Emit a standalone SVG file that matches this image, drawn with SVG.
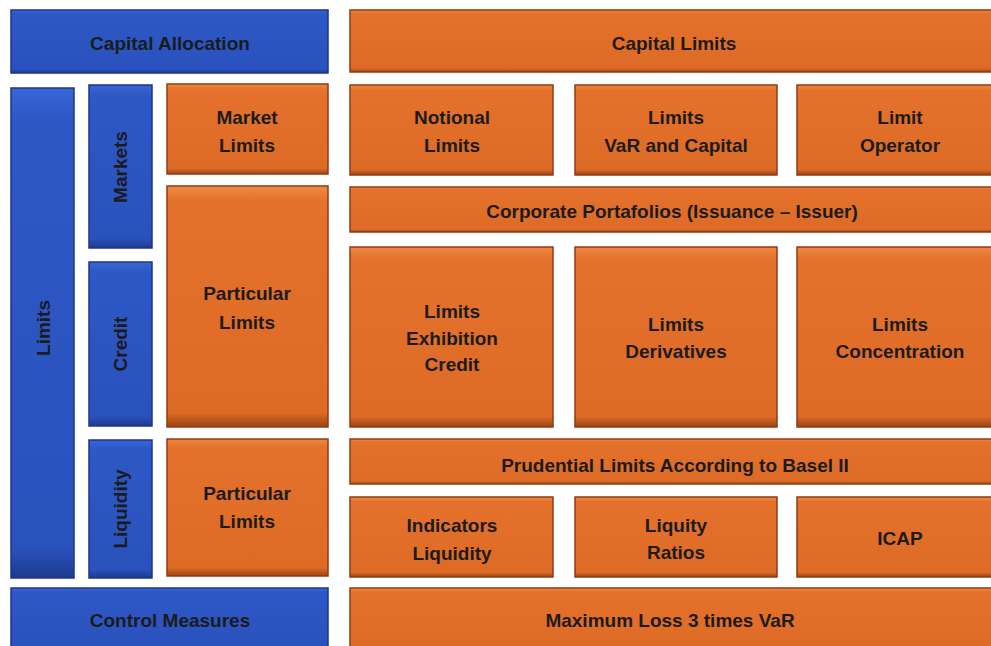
<svg xmlns="http://www.w3.org/2000/svg" width="991" height="646" viewBox="0 0 991 646">
<defs>
<linearGradient id="gb" x1="0" y1="0" x2="0" y2="1">
<stop offset="0" stop-color="#3a66d6"/>
<stop offset="0.06" stop-color="#2e58c6"/>
<stop offset="0.94" stop-color="#2a52bd"/>
<stop offset="1" stop-color="#1d3a8e"/>
</linearGradient>
<linearGradient id="go" x1="0" y1="0" x2="0" y2="1">
<stop offset="0" stop-color="#f08a45"/>
<stop offset="0.06" stop-color="#e4722c"/>
<stop offset="0.94" stop-color="#dd6b26"/>
<stop offset="1" stop-color="#9c4414"/>
</linearGradient>
<style>
.b{fill:url(#gb);stroke:#1c348a;stroke-width:1.5}
.o{fill:url(#go);stroke:#8e3d12;stroke-width:1.5}
text{font-family:"Liberation Sans",Arial,sans-serif;font-weight:bold;font-size:19px;fill:#1b1b1b;text-anchor:middle}
</style>
</defs>
<rect width="991" height="646" fill="#ffffff"/>
<g id="capital-allocation"><rect class="b" x="11" y="10" width="317" height="63"/><text x="170" y="50">Capital Allocation</text></g>
<g id="limits"><rect class="b" x="11" y="88" width="63" height="490"/><text transform="translate(50,328) rotate(-90)">Limits</text></g>
<g id="markets"><rect class="b" x="89" y="85" width="63" height="163"/><text transform="translate(127,167) rotate(-90)">Markets</text></g>
<g id="credit"><rect class="b" x="89" y="262" width="63" height="164"/><text transform="translate(127,344) rotate(-90)">Credit</text></g>
<g id="liquidity"><rect class="b" x="89" y="440" width="63" height="138"/><text transform="translate(127,509) rotate(-90)">Liquidity</text></g>
<g id="market-limits"><rect class="o" x="167" y="84" width="161" height="90"/><text x="247" y="124">Market</text><text x="247" y="152">Limits</text></g>
<g id="particular-limits-credit"><rect class="o" x="167" y="186" width="161" height="241"/><text x="247" y="300">Particular</text><text x="247" y="329">Limits</text></g>
<g id="particular-limits-liquidity"><rect class="o" x="167" y="439" width="161" height="137"/><text x="247" y="500">Particular</text><text x="247" y="528">Limits</text></g>
<g id="control-measures"><rect class="b" x="11" y="588" width="317" height="62"/><text x="170" y="627">Control  Measures</text></g>
<g id="capital-limits"><rect class="o" x="350" y="10" width="650" height="62"/><text x="674" y="50">Capital Limits</text></g>
<g id="notional-limits"><rect class="o" x="350" y="85" width="203" height="90"/><text x="452" y="124">Notional</text><text x="452" y="152">Limits</text></g>
<g id="limits-var"><rect class="o" x="575" y="85" width="202" height="90"/><text x="676" y="124">Limits</text><text x="676" y="152">VaR and Capital</text></g>
<g id="limit-operator"><rect class="o" x="797" y="85" width="210" height="90"/><text x="900" y="124">Limit</text><text x="900" y="152">Operator</text></g>
<g id="corporate-portfolios"><rect class="o" x="350" y="187" width="650" height="45"/><text x="672" y="218">Corporate Portafolios (Issuance – Issuer)</text></g>
<g id="limits-exhibition"><rect class="o" x="350" y="247" width="203" height="180"/><text x="452" y="318">Limits</text><text x="452" y="345">Exhibition</text><text x="452" y="371">Credit</text></g>
<g id="limits-derivatives"><rect class="o" x="575" y="247" width="202" height="180"/><text x="676" y="331">Limits</text><text x="676" y="358">Derivatives</text></g>
<g id="limits-concentration"><rect class="o" x="797" y="247" width="210" height="180"/><text x="900" y="331">Limits</text><text x="900" y="358">Concentration</text></g>
<g id="prudential-limits"><rect class="o" x="350" y="439" width="650" height="45"/><text x="675" y="472">Prudential Limits According to Basel II</text></g>
<g id="indicators-liquidity"><rect class="o" x="350" y="497" width="203" height="80"/><text x="452" y="532">Indicators</text><text x="452" y="560">Liquidity</text></g>
<g id="liquity-ratios"><rect class="o" x="575" y="497" width="202" height="80"/><text x="676" y="532">Liquity</text><text x="676" y="559">Ratios</text></g>
<g id="icap"><rect class="o" x="797" y="497" width="210" height="80"/><text x="900" y="545">ICAP</text></g>
<g id="maximum-loss"><rect class="o" x="350" y="588" width="650" height="62"/><text x="670" y="627">Maximum Loss 3 times VaR</text></g>
<g id="connectors"/>
</svg>
